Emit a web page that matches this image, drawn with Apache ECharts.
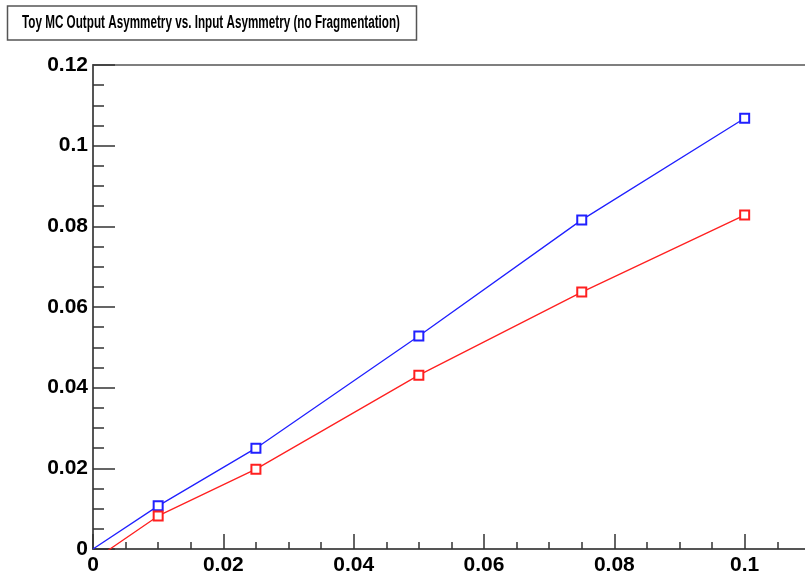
<!DOCTYPE html>
<html>
<head>
<meta charset="utf-8">
<title>Toy MC Output Asymmetry</title>
<script src="https://cdn.jsdelivr.net/npm/echarts@6/dist/echarts.min.js"></script>
<style>
  html, body { margin: 0; padding: 0; background: #fff; }
  #main { width: 805px; height: 577px; }
</style>
</head>
<body>
<div id="main"></div>
<script>
// input asymmetry (x) and output asymmetry for the two samples
var inputAsym = [0, 0.01, 0.025, 0.05, 0.075, 0.1];
var blueOut = [0, 0.0107, 0.0250, 0.0528, 0.0816, 0.1068];
var redOut = [-0.0029, 0.0082, 0.0198, 0.0431, 0.0637, 0.0828];
var titleText = 'Toy MC Output Asymmetry vs. Input Asymmetry (no Fragmentation)';

var FONT = '"Liberation Sans", Arial, Helvetica, sans-serif';
var TITLE_SIZE = 18;

// pairs for the value x axis; first point (origin) has no marker
function toPairs(ys) {
    var out = [];
    for (var i = 0; i < inputAsym.length; i++) {
        var item = { value: [inputAsym[i], ys[i]] };
        if (i == 0) item.symbol = 'none';
        out.push(item);
    }
    return out;
}

// squeeze the title text to the width of the ROOT box
function titleScale() {
    var c = document.createElement('canvas').getContext('2d');
    c.font = 'bold ' + TITLE_SIZE + 'px ' + FONT;
    var w = c.measureText(titleText).width;
    return w > 0 ? 378 / w : 1;
}

var chart = echarts.init(document.getElementById('main'), null, { renderer: 'canvas' });

var axisCol = '#555';

var option = {
    backgroundColor: '#fff',
    animation: false,
    grid: {
        left: 93,
        top: 65,
        width: 782,     // 0.12 lands past the right edge, like the cut frame
        height: 484,
        outerBoundsMode: 'none',
        containLabel: false,
        show: true,
        borderColor: axisCol,
        borderWidth: 1.5
    },
    graphic: [
        {
            type: 'rect',
            shape: { x: 7.5, y: 6, width: 409, height: 34 },
            style: { fill: '#fff', stroke: axisCol, lineWidth: 1.5 },
            z: 10
        },
        {
            type: 'text',
            x: 211,
            y: 23,
            scaleX: titleScale(),
            style: {
                text: titleText,
                font: 'bold ' + TITLE_SIZE + 'px ' + FONT,
                fill: '#000',
                textAlign: 'center',
                textVerticalAlign: 'middle'
            },
            z: 11
        }
    ],
    xAxis: {
        type: 'value',
        min: 0,
        max: 0.12,
        interval: 0.02,
        axisLine: { lineStyle: { color: axisCol, width: 2 } },
        axisTick: { inside: true, length: 15, lineStyle: { color: '#333', width: 1.5 } },
        minorTick: { show: true, splitNumber: 4, length: 7, lineStyle: { color: '#333', width: 1.5 } },
        splitLine: { show: false },
        axisLabel: {
            margin: 6,
            color: '#000',
            fontFamily: FONT,
            fontWeight: 'bold',
            fontSize: 21
        }
    },
    yAxis: {
        type: 'value',
        min: 0,
        max: 0.12,
        interval: 0.02,
        axisLine: { lineStyle: { color: axisCol, width: 2 } },
        axisTick: { inside: true, length: 22, lineStyle: { color: '#333', width: 1.5 } },
        minorTick: { show: true, splitNumber: 4, length: 11, lineStyle: { color: '#333', width: 1.5 } },
        splitLine: { show: false },
        axisLabel: {
            margin: 5,
            color: '#000',
            fontFamily: FONT,
            fontWeight: 'bold',
            fontSize: 21
        }
    },
    series: [
        {
            name: 'blue',
            type: 'line',
            data: toPairs(blueOut),
            symbol: 'emptyRect',
            symbolSize: 9,
            lineStyle: { color: '#2020ff', width: 1.3 },
            itemStyle: { color: '#2020ff', borderColor: '#2020ff', borderWidth: 1.6 },
            clip: true
        },
        {
            name: 'red',
            type: 'line',
            data: toPairs(redOut),
            symbol: 'emptyRect',
            symbolSize: 9,
            lineStyle: { color: '#ff2020', width: 1.3 },
            itemStyle: { color: '#ff2020', borderColor: '#ff2020', borderWidth: 1.6 },
            clip: true
        }
    ]
};

chart.setOption(option);
window.addEventListener('resize', function () {
    chart.resize();
});
</script>
</body>
</html>
